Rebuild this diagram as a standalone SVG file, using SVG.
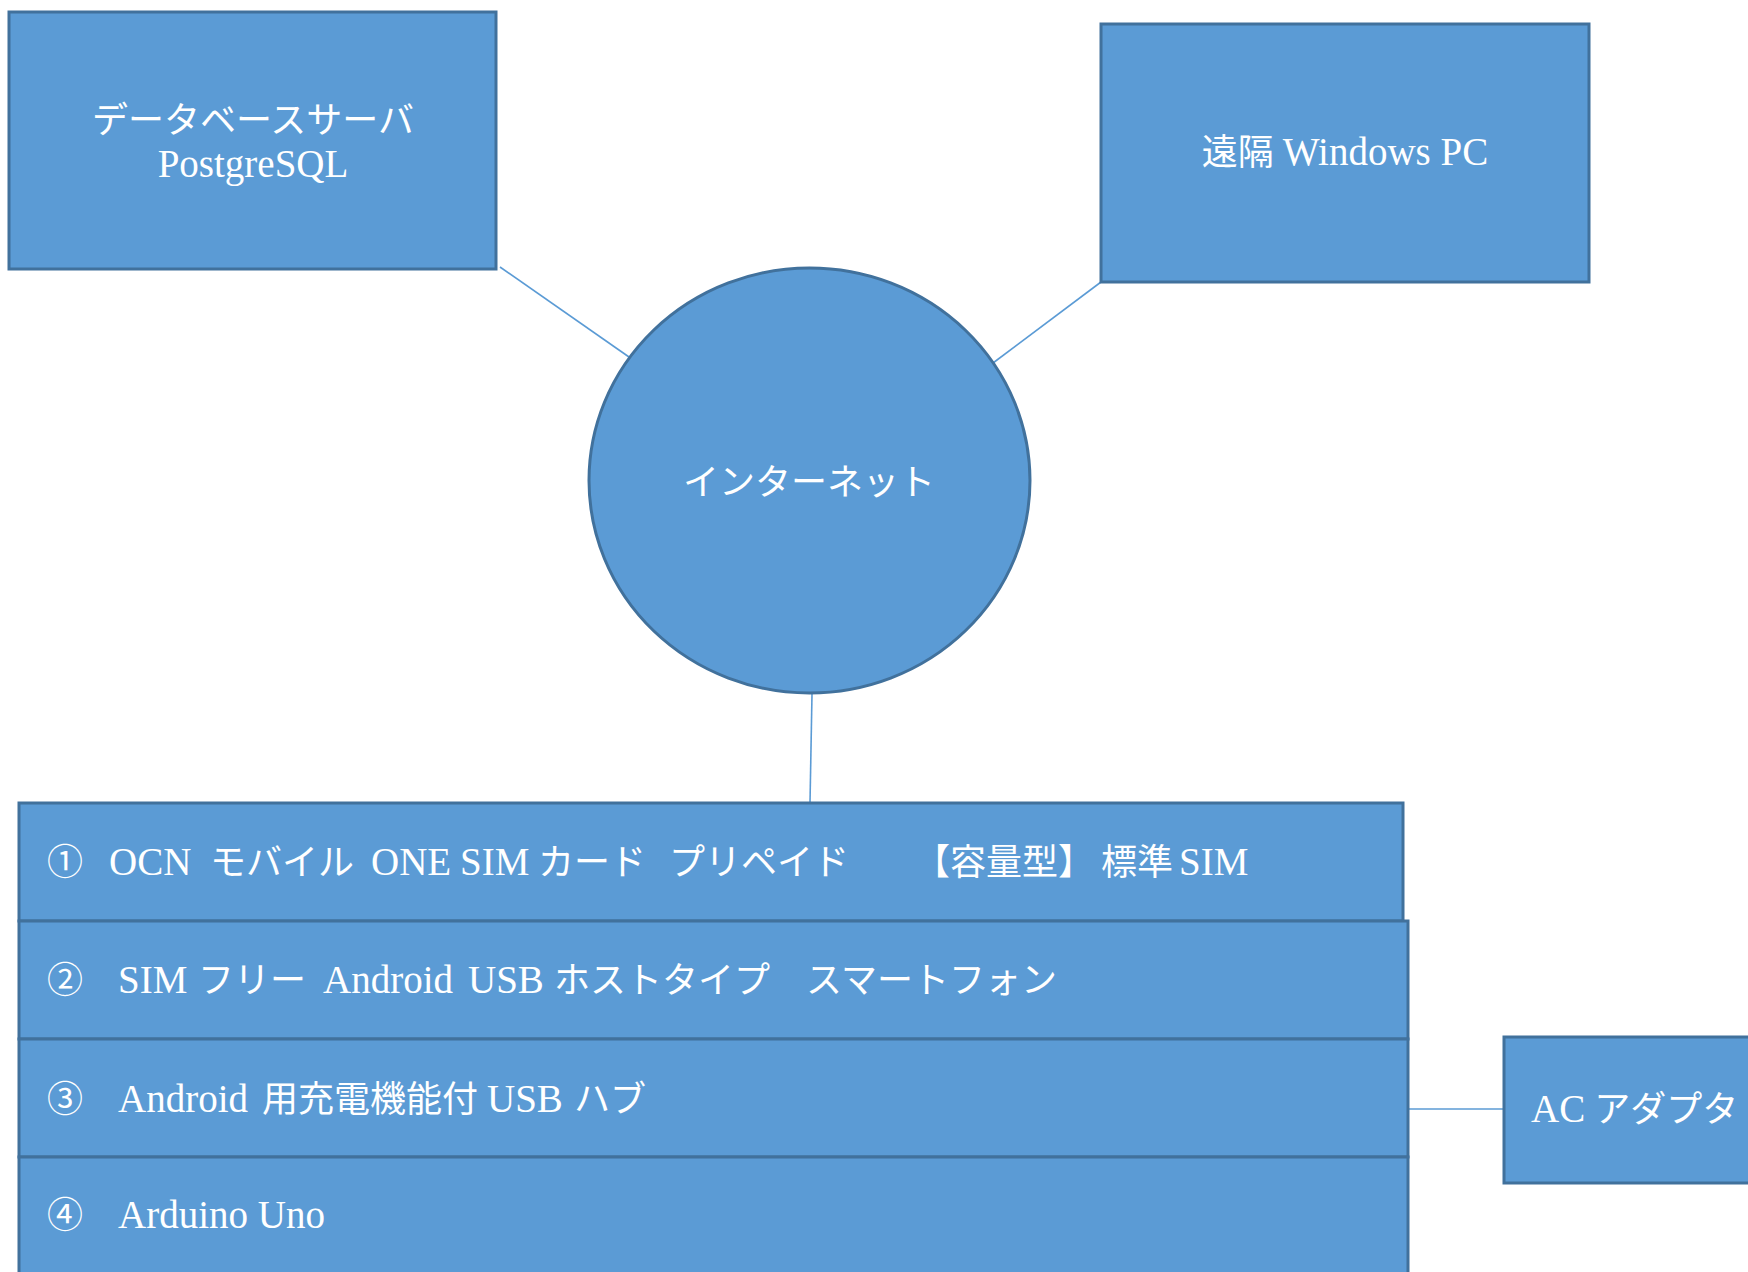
<svg xmlns="http://www.w3.org/2000/svg" width="1748" height="1272" viewBox="0 0 1748 1272">
<style>
.shape{fill:#5B9BD5;stroke:#41719C;stroke-width:3}
.conn{stroke:#5B9BD5;stroke-width:1.6;fill:none}
text{fill:#FFFFFF;font-family:"Liberation Serif","Noto Sans CJK JP",serif;font-size:36px}
.l{font-size:39px}
.c{text-anchor:middle}
</style>
<rect width="1748" height="1272" fill="#FFFFFF"/>
<g id="connectors">
<line class="conn" x1="500" y1="267" x2="629" y2="357"/>
<line class="conn" x1="1101" y1="282" x2="993" y2="363"/>
<line class="conn" x1="812" y1="694" x2="810" y2="803"/>
<line class="conn" x1="1408" y1="1109" x2="1504" y2="1109"/>
</g>
<g id="db-server">
<rect class="shape" x="9" y="12" width="487" height="257"/>
<text class="c" x="253" y="133">データベースサーバ</text>
<text class="c l" x="253" y="177">PostgreSQL</text>
</g>
<g id="windows-pc">
<rect class="shape" x="1101" y="24" width="488" height="258"/>
<text class="c" x="1345" y="165">遠隔 <tspan class="l">Windows PC</tspan></text>
</g>
<g id="internet">
<ellipse class="shape" cx="809.5" cy="480.5" rx="220.5" ry="212.5"/>
<text class="c" x="809" y="495">インターネット</text>
</g>
<g id="row1">
<rect class="shape" x="19" y="803" width="1384" height="118"/>
<text y="875"><tspan x="47">①</tspan><tspan class="l" x="109">OCN</tspan><tspan x="210">モバイル</tspan><tspan class="l" x="371">ONE</tspan><tspan class="l" x="460">SIM</tspan><tspan x="538">カード</tspan><tspan x="669">プリペイド</tspan><tspan x="914">【容量型】</tspan><tspan x="1101">標準</tspan><tspan class="l" x="1179">SIM</tspan></text>
</g>
<g id="row2">
<rect class="shape" x="19" y="921" width="1389" height="118"/>
<text y="993"><tspan x="47">②</tspan><tspan class="l" x="118">SIM</tspan><tspan x="198">フリー</tspan><tspan class="l" x="323">Android</tspan><tspan class="l" x="468">USB</tspan><tspan x="554">ホストタイプ</tspan><tspan x="806">スマートフォン</tspan></text>
</g>
<g id="row3">
<rect class="shape" x="19" y="1039" width="1389" height="118"/>
<text y="1112"><tspan x="47">③</tspan><tspan class="l" x="118">Android</tspan><tspan x="262">用充電機能付</tspan><tspan class="l" x="487">USB</tspan><tspan x="574">ハブ</tspan></text>
</g>
<g id="row4">
<rect class="shape" x="19" y="1157" width="1389" height="130"/>
<text y="1228"><tspan x="47">④</tspan><tspan class="l" x="118">Arduino Uno</tspan></text>
</g>
<g id="ac-adapter">
<rect class="shape" x="1504" y="1037" width="260" height="146"/>
<text x="1531" y="1122"><tspan class="l">AC</tspan> アダプタ</text>
</g>
</svg>
